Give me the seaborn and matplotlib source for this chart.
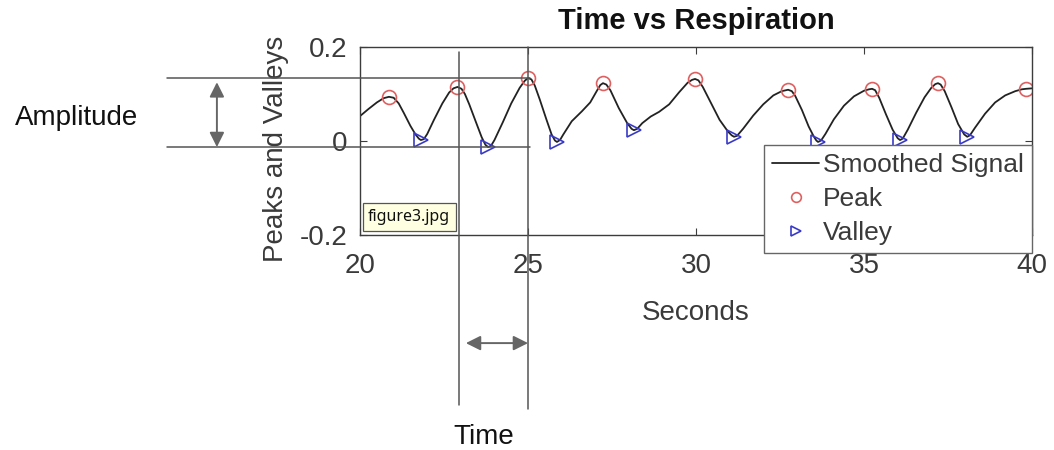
import numpy as np
import pandas as pd
import matplotlib
matplotlib.use("Agg")
import matplotlib.pyplot as plt
import seaborn as sns

# ---------------- data ----------------
signal_t = [20.0, 20.25, 20.5, 20.7, 20.86, 21.0, 21.15, 21.3, 21.5, 21.65, 21.75, 21.81, 21.9,
            22.0, 22.2, 22.45, 22.65, 22.78, 22.9, 23.02, 23.12, 23.25, 23.45, 23.62, 23.73, 23.81, 23.9,
            24.0, 24.25, 24.5, 24.75, 24.9, 25.0, 25.1, 25.2, 25.35, 25.55, 25.7, 25.8, 25.86, 25.95,
            26.05, 26.3, 26.6, 26.85, 27.05, 27.15, 27.23, 27.33, 27.45, 27.7, 27.95, 28.08, 28.15, 28.25,
            28.4, 28.65, 28.9, 29.2, 29.5, 29.75, 29.88, 29.97, 30.07, 30.2, 30.45, 30.7, 30.95, 31.06, 31.13, 31.22,
            31.4, 31.7, 32.0, 32.3, 32.55, 32.74, 32.85, 32.95, 33.15, 33.35, 33.5, 33.58, 33.63, 33.72,
            33.85, 34.1, 34.4, 34.7, 35.0, 35.15, 35.24, 35.33, 35.45, 35.65, 35.85, 36.0, 36.07, 36.15,
            36.3, 36.55, 36.8, 37.0, 37.12, 37.2, 37.28, 37.4, 37.6, 37.8, 37.98, 38.07, 38.15,
            38.3, 38.6, 38.9, 39.2, 39.5, 39.7, 39.82, 40.0]
signal_v = [0.053, 0.068, 0.082, 0.091, 0.094, 0.092, 0.080, 0.060, 0.032, 0.014, 0.005, 0.002, 0.004,
            0.015, 0.045, 0.080, 0.103, 0.112, 0.115, 0.111, 0.100, 0.078, 0.040, 0.008, -0.008, -0.013, -0.010,
            0.002, 0.040, 0.080, 0.113, 0.128, 0.134, 0.131, 0.118, 0.088, 0.045, 0.014, 0.001, -0.002, 0.002,
            0.014, 0.042, 0.063, 0.082, 0.107, 0.119, 0.123, 0.120, 0.108, 0.070, 0.038, 0.026, 0.023, 0.026,
            0.038, 0.052, 0.062, 0.078, 0.104, 0.124, 0.130, 0.132, 0.129, 0.115, 0.080, 0.045, 0.020, 0.012, 0.009, 0.011,
            0.026, 0.054, 0.078, 0.097, 0.106, 0.109, 0.106, 0.096, 0.066, 0.031, 0.010, 0.001, -0.002, 0.001,
            0.015, 0.046, 0.075, 0.095, 0.107, 0.110, 0.111, 0.108, 0.092, 0.057, 0.024, 0.006, 0.002, 0.005,
            0.024, 0.060, 0.093, 0.113, 0.121, 0.123, 0.120, 0.106, 0.072, 0.036, 0.014, 0.009, 0.012,
            0.028, 0.058, 0.082, 0.097, 0.106, 0.110, 0.111, 0.112]

peak_t = [20.86, 22.9, 25.0, 27.23, 29.97, 32.74, 35.24, 37.2, 39.82]
peak_v = [0.094, 0.115, 0.134, 0.123, 0.132, 0.109, 0.111, 0.123, 0.111]

valley_t = [21.81, 23.81, 25.86, 28.15, 31.13, 33.63, 36.07, 38.07]
valley_v = [0.002, -0.013, -0.002, 0.023, 0.009, -0.002, 0.002, 0.009]

x_ticks = [20, 25, 30, 35, 40]
y_ticks = [-0.2, 0, 0.2]
y_tick_labels = ["-0.2", "0", "0.2"]

# ---------------- style ----------------
sns.set_theme(style="white")
plt.rcParams["font.family"] = ["Liberation Sans", "DejaVu Sans"]

TXT = "#3a3a3a"
AX = "#3c3c3c"
ANN = "#555555"

fig = plt.figure(figsize=(10.54, 4.5), dpi=100)
ax = fig.add_axes([0.3416, 0.4778, 0.6376, 0.4178])

sig = pd.DataFrame({"t": signal_t, "v": signal_v})
pk = pd.DataFrame({"t": peak_t, "v": peak_v})
vl = pd.DataFrame({"t": valley_t, "v": valley_v})

sns.lineplot(data=sig, x="t", y="v", ax=ax, color="#222222", lw=1.3,
             label="Smoothed Signal", sort=True, estimator=None)
sns.lineplot(data=pk, x="t", y="v", ax=ax, linestyle="", marker="o",
             markersize=10, markerfacecolor="none", markeredgecolor="#e06060",
             markeredgewidth=1.2, color="#e06060", label="Peak", estimator=None)
sns.lineplot(data=vl, x="t", y="v", ax=ax, linestyle="", marker=">",
             markersize=10, markerfacecolor="none", markeredgecolor="#3a3ac8",
             markeredgewidth=1.2, color="#3a3ac8", label="Valley", estimator=None)

ax.set_xlim(20, 40)
ax.set_ylim(-0.2, 0.2)
ax.set_xticks(x_ticks)
ax.set_yticks(y_ticks)
ax.set_yticklabels(y_tick_labels)
ax.tick_params(axis="both", which="both", direction="in", length=5, width=0.8,
               colors=AX, labelcolor=TXT, labelsize=20,
               top=True, right=True, bottom=True, left=True)
ax.tick_params(axis="x", pad=13)
ax.tick_params(axis="y", pad=9)
for s in ax.spines.values():
    s.set_visible(True)
    s.set_color(AX)
    s.set_linewidth(1.0)

ax.set_title("Time vs Respiration", fontsize=21, fontweight="bold", color="#111111", pad=13)
ax.set_xlabel("Seconds", fontsize=20, color=TXT)
ax.set_ylabel("Peaks and Valleys", fontsize=20, color=TXT)
ax.xaxis.set_label_coords(0.5, -0.345)
ax.yaxis.set_label_coords(-0.106, 0.46)

leg = ax.legend(loc="lower right", bbox_to_anchor=(1.0, -0.096), borderaxespad=0,
                fontsize=19, frameon=True, fancybox=False, framealpha=1,
                edgecolor="#666666", handlelength=1.8, handletextpad=0.15,
                labelspacing=0.38, borderpad=0.3)
leg.get_frame().set_linewidth(1.0)
for txt in leg.get_texts():
    txt.set_color(TXT)
for h in leg.legend_handles[1:]:
    h.set_markersize(7)

# ---------------- annotations (amplitude / time span) ----------------
amp_top = max(peak_v)
amp_bot = min(valley_v)
t_a, t_b = peak_t[1], peak_t[2]

for yv in (amp_top, amp_bot):
    ax.plot([14.26, 25.06], [yv, yv], color=ANN, lw=1.1, clip_on=False, zorder=5)
ax.plot([t_a + 0.05, t_a + 0.05], [0.189, -0.561], color=ANN, lw=1.1, clip_on=False, zorder=5)
ax.plot([t_b, t_b], [0.2, -0.570], color=ANN, lw=1.1, clip_on=False, zorder=5)

ax.annotate("", xy=(15.74, amp_bot), xytext=(15.74, amp_top - 0.009),
            arrowprops=dict(arrowstyle="<|-|>", color="#666666", lw=1.4,
                            mutation_scale=22, shrinkA=0, shrinkB=0),
            annotation_clip=False)
ax.annotate("", xy=(t_b, -0.43), xytext=(t_a + 0.25, -0.43),
            arrowprops=dict(arrowstyle="<|-|>", color="#666666", lw=1.4,
                            mutation_scale=22, shrinkA=0, shrinkB=0),
            annotation_clip=False)

fig.text(77 / 1054, 1 - 118 / 450, "Amplitude", fontsize=20, color="#111111",
         ha="center", va="center")
fig.text(484 / 1054, 1 - 437 / 450, "Time", fontsize=20, color="#111111",
         ha="center", va="center")

# tooltip-like label
ax.text(0.012, 0.096, "figure3.jpg", transform=ax.transAxes, fontsize=11.5,
        family=["Noto Sans", "DejaVu Sans"], color="#111111", ha="left", va="center",
        zorder=10,
        bbox=dict(boxstyle="square,pad=0.35", facecolor="#ffffe1",
                  edgecolor="#555555", linewidth=0.9))

fig.savefig("out.png", dpi=100)
